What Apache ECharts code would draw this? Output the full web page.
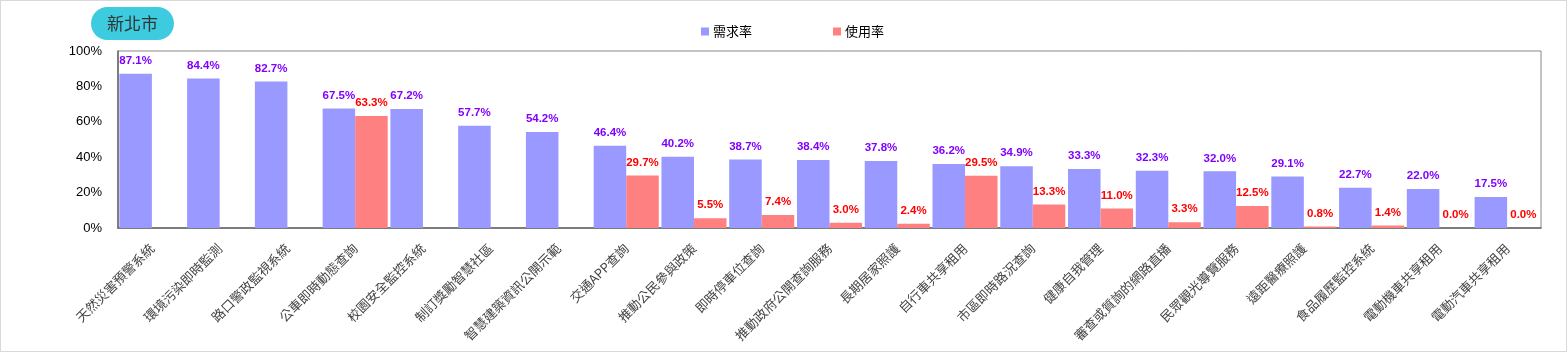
<!DOCTYPE html>
<html>
<head>
<meta charset="utf-8">
<script src="https://cdn.jsdelivr.net/npm/echarts@6/dist/echarts.min.js"></script>
<style>
  body { margin: 0; background: #fff; }
  #wrap { position: relative; width: 1567px; height: 352px; }
  #chart { width: 1567px; height: 352px; }
  #frame { position: absolute; left: 0; top: 0; width: 1567px; height: 352px; box-sizing: border-box; border: 1px solid #d9d9d9; pointer-events: none; }
</style>
</head>
<body>
<div id="wrap">
  <div id="chart"></div>
  <div id="frame"></div>
</div>
<script>
// 新北市 需求率 / 使用率
var categories = ['天然災害預警系統', '環境污染即時監測', '路口警政監視系統', '公車即時動態查詢', '校園安全監控系統',
  '制訂獎勵智慧社區', '智慧建築資訊公開示範', '交通APP查詢', '推動公民參與政策', '即時停車位查詢',
  '推動政府公開查詢服務', '長期居家照護', '自行車共享租用', '市區即時路況查詢', '健康自我管理',
  '審查或質詢的網路直播', '民眾觀光導覽服務', '遠距醫療照護', '食品履歷監控系統', '電動機車共享租用', '電動汽車共享租用'];
var demandRate = [87.1, 84.4, 82.7, 67.5, 67.2, 57.7, 54.2, 46.4, 40.2, 38.7, 38.4, 37.8, 36.2, 34.9, 33.3, 32.3, 32.0, 29.1, 22.7, 22.0, 17.5];
var useRate = ['-', '-', '-', 63.3, '-', '-', '-', 29.7, 5.5, 7.4, 3.0, 2.4, 29.5, 13.3, 11.0, 3.3, 12.5, 0.8, 1.4, 0.0, 0.0];
var yTicks = [0, 20, 40, 60, 80, 100];

var chart = echarts.init(document.getElementById('chart'));

function pct(p) {
  return p.value.toFixed(1) + '%';
}

var option = {
  animation: false,
  title: {
    text: '新北市',
    left: 91,
    top: 7,
    padding: [8, 16],
    backgroundColor: '#3ccbdf',
    borderRadius: 17,
    textStyle: {
      fontSize: 17,
      fontWeight: 'normal',
      color: '#333',
      fontFamily: 'Noto Sans CJK TC'
    }
  },
  legend: {
    data: ['需求率', '使用率'],
    left: 701,
    top: 25,
    padding: 0,
    itemWidth: 8,
    itemHeight: 8,
    itemGap: 81,
    icon: 'rect',
    textStyle: { fontSize: 13, color: '#000', fontFamily: 'Noto Sans CJK TC', padding: [0, 0, 0, -1] }
  },
  grid: {
    left: 118,
    right: 26,
    top: 51,
    bottom: 124,
    show: true,
    borderColor: '#888',
    borderWidth: 1
  },
  xAxis: {
    type: 'category',
    data: categories,
    axisLine: { lineStyle: { color: '#666', width: 1.5 } },
    axisTick: { show: false },
    axisLabel: {
      rotate: 45,
      interval: 0,
      margin: 18,
      fontSize: 13,
      color: '#444',
      fontFamily: 'Noto Sans CJK TC'
    }
  },
  yAxis: {
    type: 'value',
    min: yTicks[0],
    max: yTicks[yTicks.length - 1],
    interval: 20,
    splitLine: { show: false },
    axisLine: { show: true, lineStyle: { color: '#666', width: 1.5 } },
    axisTick: { show: false },
    axisLabel: {
      formatter: '{value}%',
      margin: 16,
      fontSize: 13,
      color: '#000',
      fontFamily: 'Liberation Sans'
    }
  },
  series: [
    {
      name: '需求率',
      type: 'bar',
      data: demandRate,
      barGap: '0%',
      barCategoryGap: '4%',
      itemStyle: { color: '#9999ff' },
      label: {
        show: true,
        position: 'top',
        distance: 7,
        formatter: pct,
        color: '#8000ff',
        fontWeight: 'bold',
        fontSize: 11.5,
        fontFamily: 'Liberation Sans'
      }
    },
    {
      name: '使用率',
      type: 'bar',
      data: useRate,
      itemStyle: { color: '#ff8080' },
      label: {
        show: true,
        position: 'top',
        distance: 7,
        formatter: pct,
        color: '#ff0000',
        fontWeight: 'bold',
        fontSize: 11.5,
        fontFamily: 'Liberation Sans'
      }
    }
  ]
};

chart.setOption(option);
</script>
</body>
</html>
